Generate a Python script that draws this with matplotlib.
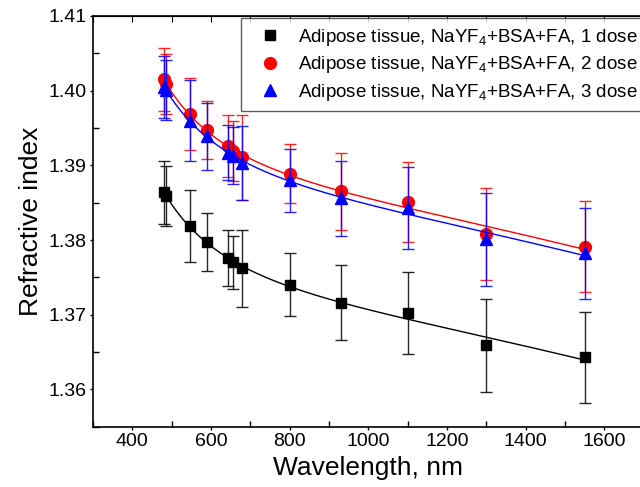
import numpy as np
import matplotlib
matplotlib.use("Agg")
import matplotlib.pyplot as plt
from matplotlib.ticker import MultipleLocator

plt.rcParams['font.family'] = ['Liberation Sans', 'DejaVu Sans']
plt.rcParams['mathtext.fontset'] = 'custom'
plt.rcParams['mathtext.rm'] = 'Liberation Sans'

wavelength = [480, 486, 546, 589, 644, 656, 680, 800, 930, 1100, 1300, 1550]

n_dose1 = [1.3864, 1.3859, 1.3819, 1.3797, 1.3776, 1.3770, 1.3762,
           1.3740, 1.3716, 1.3702, 1.3659, 1.3643]
err_dose1 = [0.0042, 0.0040, 0.0048, 0.0039, 0.0038, 0.0036, 0.0052,
             0.0042, 0.0050, 0.0055, 0.0062, 0.0061]

n_dose2 = [1.4015, 1.4009, 1.3969, 1.3947, 1.3926, 1.3919, 1.3911,
           1.3889, 1.3865, 1.3851, 1.3808, 1.3791]
err_dose2 = [0.0042, 0.0040, 0.0048, 0.0039, 0.0042, 0.0040, 0.0057,
             0.0040, 0.0051, 0.0054, 0.0062, 0.0061]

n_dose3 = [1.4005, 1.4001, 1.3960, 1.3939, 1.3917, 1.3913, 1.3903,
           1.3880, 1.3856, 1.3843, 1.3801, 1.3782]
err_dose3 = [0.0041, 0.0040, 0.0054, 0.0045, 0.0037, 0.0038, 0.0050,
             0.0042, 0.0050, 0.0055, 0.0062, 0.0061]

labels = ["Adipose tissue, NaYF$_4$+BSA+FA, 1 dose",
          "Adipose tissue, NaYF$_4$+BSA+FA, 2 dose",
          "Adipose tissue, NaYF$_4$+BSA+FA, 3 dose"]
colors = ["black", "red", "blue"]
markers = ["s", "o", "^"]
sizes = [7.5, 8.5, 8.5]


def basis(l):
    # extended Cauchy: A + B/l^2 + C/l^4 + D*l^2
    l = l / 1000.0
    return np.column_stack([np.ones_like(l), l ** -2, l ** -4, l ** 2])


fig = plt.figure(figsize=(6.4, 4.87), dpi=100)
ax = fig.add_axes([93 / 640, 60.3 / 487, 550.6 / 640, 410.7 / 487])

lam = np.array(wavelength, dtype=float)
lam_fine = np.linspace(lam.min(), lam.max(), 300)
handles = []
for n, err, c, m, ms, lab in zip([n_dose1, n_dose2, n_dose3],
                                 [err_dose1, err_dose2, err_dose3],
                                 colors, markers, sizes, labels):
    coef, *_ = np.linalg.lstsq(basis(lam), np.array(n), rcond=None)
    ax.plot(lam_fine, basis(lam_fine) @ coef, color=c, lw=1)
    ax.errorbar(lam, n, yerr=err, fmt='none', ecolor=c, elinewidth=1,
                capsize=4, capthick=1, alpha=0.85)
    h, = ax.plot(lam, n, ls='none', marker=m, color=c, ms=ms, label=lab)
    handles.append(h)

ax.set_xlim(300, 1700)
ax.set_ylim(1.355, 1.41)
ax.xaxis.set_major_locator(MultipleLocator(200))
ax.xaxis.set_minor_locator(MultipleLocator(100))
ax.yaxis.set_major_locator(MultipleLocator(0.01))
ax.yaxis.set_minor_locator(MultipleLocator(0.005))
ax.yaxis.set_major_formatter(plt.FormatStrFormatter('%.2f'))
ax.tick_params(which='major', direction='out', length=2.5, width=1,
               labelsize=14, pad=2)
ax.tick_params(which='minor', direction='in', length=4, width=1)
for s in ax.spines.values():
    s.set_linewidth(1.2)

top = ax.secondary_xaxis('top')
top.xaxis.set_major_locator(MultipleLocator(100))
top.tick_params(direction='in', length=4, labeltop=False)

ax.set_xlabel("Wavelength, nm", fontsize=19, labelpad=4)
ax.set_ylabel("Refractive index", fontsize=19, labelpad=4)

leg = fig.legend(handles=handles, loc='upper left',
                 bbox_to_anchor=(241 / 640, 1 - 18.3 / 487),
                 bbox_transform=fig.transFigure, fontsize=13.5,
                 frameon=True, fancybox=False, borderpad=0.45,
                 handlelength=2.2, handletextpad=0.4, labelspacing=0.35,
                 borderaxespad=0)
leg.get_frame().set_edgecolor('#333333')
leg.get_frame().set_linewidth(1)

fig.savefig("out.png", dpi=100)
